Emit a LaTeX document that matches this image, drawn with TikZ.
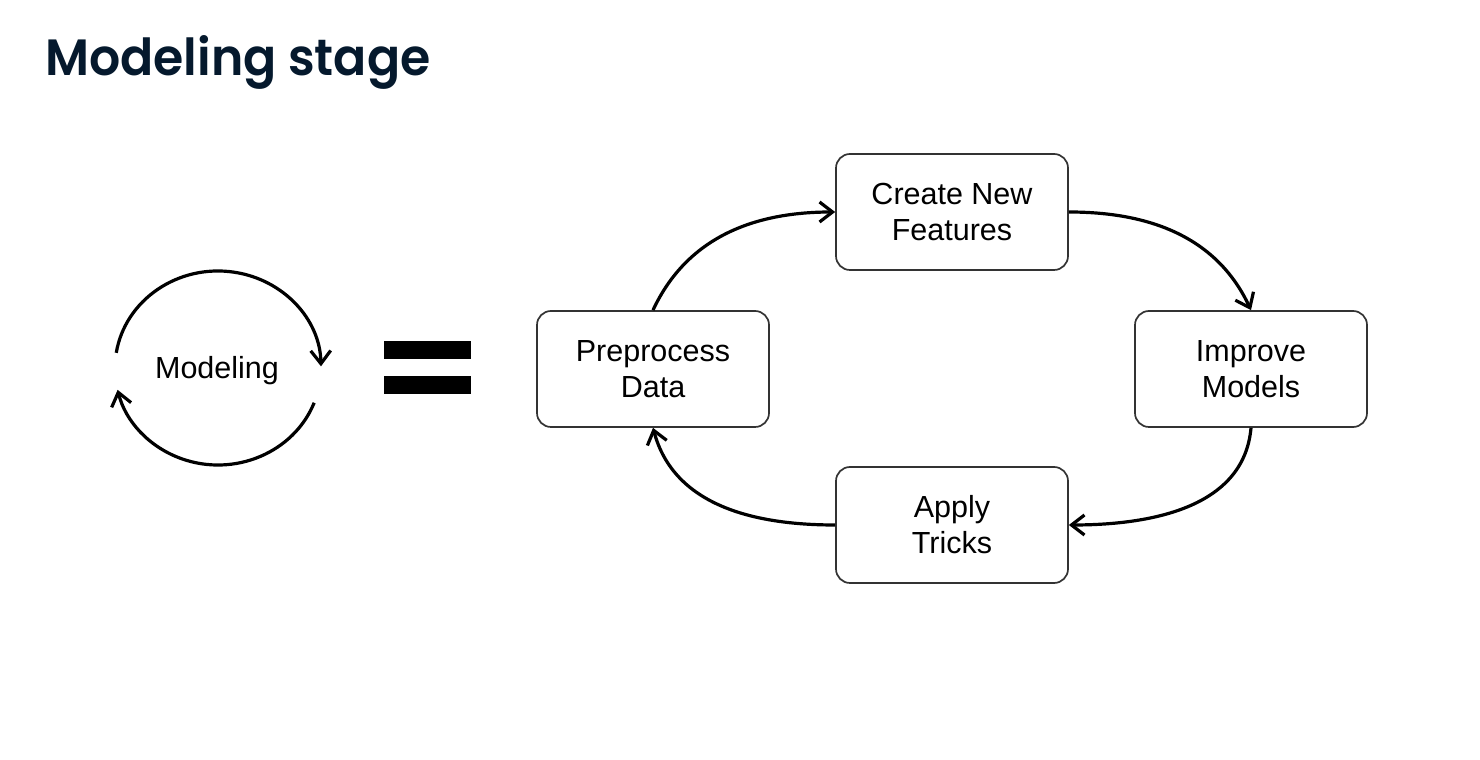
\documentclass[tikz,border=0pt]{standalone}
\usepackage{fontspec}
\setmainfont{Liberation Sans}
\newfontfamily\titlefont{Poppins}[UprightFont={* SemiBold}, FakeStretch=0.96]
\usetikzlibrary{arrows.meta,calc}
\definecolor{navy}{HTML}{05192D}
\definecolor{boxline}{HTML}{333333}
\begin{document}
\begin{tikzpicture}[x=1pt,y=1pt,
  stepbox/.style={draw=boxline, line width=1.7pt, rounded corners=14pt, minimum width=232pt, minimum height=116pt, align=center, font=\fontsize{30.5}{36}\selectfont, inner sep=0pt},
  flow/.style={line width=3.2pt, -{Straight Barb[length=13pt,width=20pt]}},
  bar/.style={fill=black, draw=none}]
\useasboundingbox (0,0) rectangle (1480,760);
\node[anchor=base west, font=\titlefont\fontsize{51}{60}\selectfont, text=navy, inner sep=0pt] (title) at (45,684) {Modeling stage};
% left loop
\node[font=\fontsize{30.5}{36}\selectfont, inner sep=0pt] (modeling) at (217,389) {Modeling};
\coordinate (lc) at (218,392);
\draw[flow] ($(lc)+(171:103 and 97)$) arc[start angle=171, end angle=1, x radius=103, y radius=97];
\draw[flow] ($(lc)+(-21:103 and 97)$) arc[start angle=-21, end angle=-167, x radius=103, y radius=97];
% equals
\fill[bar] (384,401) rectangle (471,419);
\fill[bar] (384,366) rectangle (471,384);
% boxes
\node[stepbox] (create) at (952,548) {Create New\\Features};
\node[stepbox] (pre) at (653,391) {Preprocess\\Data};
\node[stepbox] (imp) at (1251,391) {Improve\\Models};
\node[stepbox] (apply) at (952,235) {Apply\\Tricks};
% connectors
\draw[flow] (pre.north) to[out=65, in=180] (create.west);
\draw[flow] (create.east) to[out=0, in=115] (imp.north);
\draw[flow] (imp.south) to[out=-95, in=0] (apply.east);
\draw[flow] (apply.west) to[out=180, in=-75] (pre.south);
\end{tikzpicture}
\end{document}
